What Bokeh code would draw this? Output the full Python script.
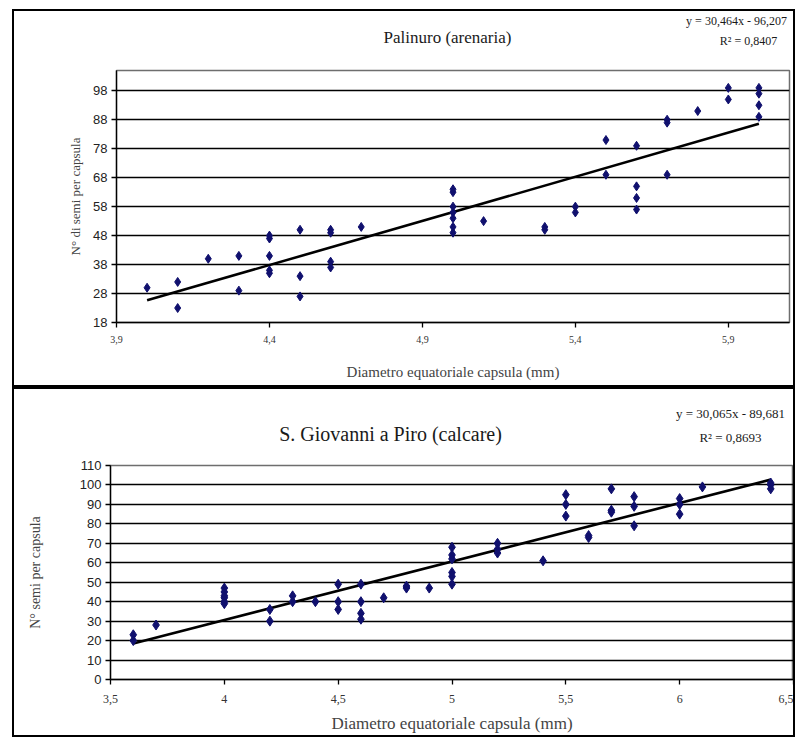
from bokeh.plotting import figure
from bokeh.layouts import column
from bokeh.models import Range1d, FixedTicker
from bokeh.core.properties import value
from bokeh.embed import file_html
from bokeh.resources import INLINE

# ---- Palinuro (arenaria) ----
title1 = "Palinuro (arenaria)"
eq1 = "y = 30,464x - 96,207"
r2_1 = "R² = 0,8407"
slope1, intercept1 = 30.464, -96.207
x1 = [4.0, 4.1, 4.1, 4.2, 4.3, 4.3, 4.4, 4.4, 4.4, 4.4, 4.4, 4.5, 4.5, 4.5,
      4.6, 4.6, 4.6, 4.6, 4.7, 5.0, 5.0, 5.0, 5.0, 5.0, 5.0, 5.0, 5.1, 5.3,
      5.3, 5.4, 5.4, 5.5, 5.5, 5.6, 5.6, 5.6, 5.6, 5.7, 5.7, 5.7, 5.8, 5.9,
      5.9, 6.0, 6.0, 6.0, 6.0]
y1 = [30, 32, 23, 40, 41, 29, 48, 47, 41, 36, 35, 50, 34, 27,
      50, 49, 39, 37, 51, 64, 63, 58, 56, 54, 51, 49, 53, 51,
      50, 58, 56, 81, 69, 79, 65, 61, 57, 88, 87, 69, 91, 99,
      95, 99, 97, 93, 89]
xticks1 = [3.9, 4.4, 4.9, 5.4, 5.9]
xlabels1 = ["3,9", "4,4", "4,9", "5,4", "5,9"]
yticks1 = [18, 28, 38, 48, 58, 68, 78, 88, 98]
xlab1 = "Diametro equatoriale capsula (mm)"
ylab1 = "N° di semi per capsula"

# ---- S. Giovanni a Piro (calcare) ----
title2 = "S. Giovanni a Piro (calcare)"
eq2 = "y = 30,065x - 89,681"
r2_2 = "R² = 0,8693"
slope2, intercept2 = 30.065, -89.681
x2 = [3.6, 3.6, 3.7, 4.0, 4.0, 4.0, 4.0, 4.0, 4.0, 4.2, 4.2, 4.3, 4.3, 4.4,
      4.5, 4.5, 4.5, 4.6, 4.6, 4.6, 4.6, 4.7, 4.8, 4.8, 4.9, 5.0, 5.0, 5.0,
      5.0, 5.0, 5.0, 5.2, 5.2, 5.2, 5.4, 5.5, 5.5, 5.5, 5.6, 5.6, 5.7, 5.7,
      5.7, 5.8, 5.8, 5.8, 6.0, 6.0, 6.0, 6.1, 6.4, 6.4, 6.4]
y2 = [23, 20, 28, 47, 45, 43, 42, 40, 39, 36, 30, 43, 40, 40,
      49, 40, 36, 49, 40, 34, 31, 42, 47, 48, 47, 68, 64, 62,
      55, 53, 49, 70, 67, 65, 61, 95, 90, 84, 73, 74, 98, 87,
      86, 94, 89, 79, 93, 90, 85, 99, 101, 100, 98]
xticks2 = [3.5, 4.0, 4.5, 5.0, 5.5, 6.0, 6.5]
xlabels2 = ["3,5", "4", "4,5", "5", "5,5", "6", "6,5"]
yticks2 = [0, 10, 20, 30, 40, 50, 60, 70, 80, 90, 100, 110]
xlab2 = "Diametro equatoriale capsula (mm)"
ylab2 = "N° semi per capsula"

SERIF = "Liberation Serif"
SANS = "Liberation Sans"
NAVY = "#10106e"
W = 779


def header(H, texts):
    """Text strip above a plot; ranges are in pixels of the strip."""
    h = figure(width=W, height=H, output_backend="svg", toolbar_location=None,
               x_range=Range1d(0, W), y_range=Range1d(H, 0),
               x_axis_type=None, y_axis_type=None, frame_align=False,
               min_border=0, min_border_left=0, min_border_right=0,
               min_border_top=0, min_border_bottom=0)
    h.outline_line_color = None
    h.grid.visible = False
    for txt, (tx, ty), fs in texts:
        h.text(x=[tx], y=[ty], text=[txt], text_font=value(SERIF),
               text_font_size=fs, text_align="center",
               text_baseline="middle", text_color="#1a1a1a")
    return h


def panel(xs, ys, slope, intercept, xr, yr, xticks, xlabels, yticks,
          xlab, ylab, H, borders, sizes):
    p = figure(width=W, height=H, output_backend="svg", toolbar_location=None,
               x_range=Range1d(*xr), y_range=Range1d(*yr), frame_align=False,
               min_border_left=borders[0], min_border_right=borders[1],
               min_border_top=borders[2], min_border_bottom=borders[3],
               background_fill_color="white", border_fill_color="white")
    p.outline_line_color = "#6e6e6e"
    p.outline_line_width = 1.5
    p.xgrid.visible = False
    p.ygrid.grid_line_color = "black"
    p.ygrid.grid_line_width = 1.3
    p.ygrid.ticker = FixedTicker(ticks=yticks)

    for ax in (p.xaxis[0], p.yaxis[0]):
        ax.axis_line_color = "black"
        ax.axis_line_width = 1.3
        ax.major_tick_line_color = "black"
        ax.major_tick_line_width = 1.3
        ax.major_tick_out = 5
        ax.major_tick_in = 0
        ax.minor_tick_line_color = None
    p.xaxis.ticker = FixedTicker(ticks=xticks)
    p.xaxis.major_label_overrides = {t: l for t, l in zip(xticks, xlabels)}
    p.yaxis.ticker = FixedTicker(ticks=yticks)
    p.xaxis.major_label_text_font = SERIF
    p.xaxis.major_label_text_font_size = sizes["xtick"]
    p.xaxis.major_label_text_color = "#333333"
    p.xaxis.major_label_standoff = sizes["xstand"]
    p.yaxis.major_label_text_font = SANS
    p.yaxis.major_label_text_font_size = sizes["ytick"]
    p.yaxis.major_label_text_color = "#222222"
    p.yaxis.major_label_standoff = 4
    p.xaxis.axis_label = xlab
    p.xaxis.axis_label_text_font = SERIF
    p.xaxis.axis_label_text_font_style = "normal"
    p.xaxis.axis_label_text_font_size = sizes["xlab"]
    p.xaxis.axis_label_standoff = sizes["xlabstand"]
    p.yaxis.axis_label = ylab
    p.yaxis.axis_label_text_font = SERIF
    p.yaxis.axis_label_text_font_style = "normal"
    p.yaxis.axis_label_text_font_size = sizes["ylab"]
    p.yaxis.axis_label_standoff = sizes["ylabstand"]

    xmin, xmax = min(xs), max(xs)
    p.line([xmin, xmax], [slope * xmin + intercept, slope * xmax + intercept],
           line_color="black", line_width=2.6)
    p.scatter(xs, ys, marker="diamond", size=sizes["marker"],
              fill_color=NAVY, line_color=NAVY)
    return p


h1 = header(44, [(title1, (433, 26), "17px"), (eq1, (722, 9), "12px"),
                 (r2_1, (734, 29), "12px")])
p1 = panel(x1, y1, slope1, intercept1, (3.9, 6.1), (18, 105), xticks1,
           xlabels1, yticks1, xlab1, ylab1, 330, (102, 4, 15, 63),
           dict(xtick="10px", ytick="13px", xlab="15px", ylab="13px",
                marker=9, xstand=8, xlabstand=18, ylabstand=7))

h2 = header(60, [(title2, (376, 44), "20px"), (eq2, (716, 24), "13px"),
                 (r2_2, (716, 48), "13px")])
p2 = panel(x2, y2, slope2, intercept2, (3.5, 6.5), (0, 110), xticks2,
           xlabels2, yticks2, xlab2, ylab2, 286, (96, 0, 16, 55),
           dict(xtick="12px", ytick="13px", xlab="17px", ylab="14px",
                marker=10, xstand=10, xlabstand=8, ylabstand=34))

box1 = column(h1, p1, spacing=0, margin=(9, 0, 0, 12),
              styles={"border": "2px solid black"})
box2 = column(h2, p2, spacing=0, margin=(0, 0, 0, 12),
              styles={"border": "2px solid black"})
layout = column(box1, box2, spacing=0)
open("out.html", "w").write(file_html(layout, INLINE))
